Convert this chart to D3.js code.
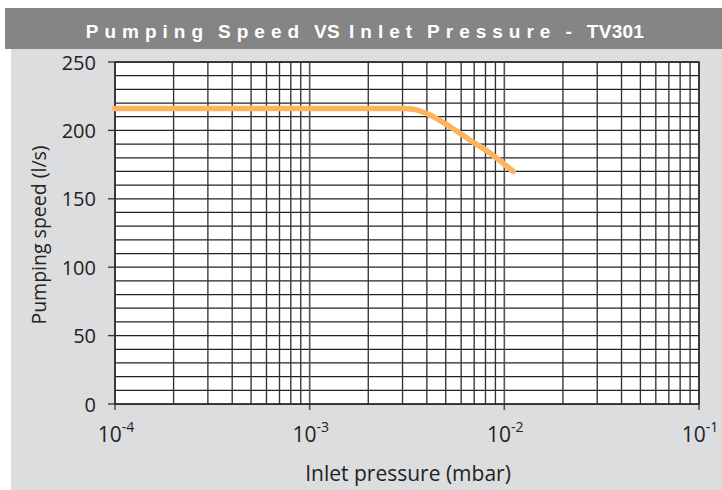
<!DOCTYPE html>
<html>
<head>
<meta charset="utf-8">
<script src="https://cdn.jsdelivr.net/npm/d3@7"></script>
<style>
  body { margin: 0; background: #fff; }
  svg { display: block; }
  text { white-space: pre; }
</style>
</head>
<body>
<div id="chart"></div>
<script>
// pumping speed curve
var pressure = [1e-4, 1e-3, 3.0e-3, 3.4e-3, 4.15e-3, 5.26e-3, 6.65e-3, 8.43e-3, 1.11e-2];
var speed = [216, 216, 216, 215.5, 211.3, 202.7, 193, 183.5, 170];
var yTicks = [0, 50, 100, 150, 200, 250];
var xDecades = [-4, -3, -2, -1];
var titleParts = ['Pumping', 'Speed', 'VS', 'Inlet', 'Pressure', '-', 'TV301'];

function drawChart() {
	var W = 722, H = 490;
	var mLeft = 115, mRight = 699, mTop = 62, mBottom = 404;

	var svg = d3.select('#chart').append('svg').attr('width', W).attr('height', H);

	// panel background + title bar
	svg.append('rect').attr('x', 11).attr('y', 49).attr('width', W - 11).attr('height', H - 49).attr('fill', '#dcdddf');
	svg.append('rect').attr('x', 5).attr('y', 8).attr('width', W - 5).attr('height', 41).attr('fill', '#858585');

	var title = svg.append('text')
		.attr('x', 365).attr('y', 38)
		.attr('text-anchor', 'middle')
		.attr('fill', '#fff')
		.attr('font-family', 'Liberation Sans, Arial, sans-serif')
		.attr('font-weight', 'bold')
		.attr('font-size', 19);
	titleParts.forEach(function (p, i) {
		var tight = p == 'VS' || p == 'TV301';
		title.append('tspan')
			.attr('dx', i == 0 ? 0 : 9)
			.attr('letter-spacing', tight ? 0.3 : 6)
			.text(p);
	});

	var x = d3.scaleLog().domain([1e-4, 1e-1]).range([mLeft, mRight]);
	var y = d3.scaleLinear().domain([0, 250]).range([mBottom, mTop]);

	svg.append('rect').attr('x', mLeft).attr('y', mTop).attr('width', mRight - mLeft).attr('height', mBottom - mTop).attr('fill', '#fff');

	// grid
	var g = svg.append('g');
	d3.range(0, 251, 10).forEach(function (v) {
		g.append('line')
			.attr('x1', mLeft).attr('x2', mRight)
			.attr('y1', y(v)).attr('y2', y(v))
			.attr('stroke', '#222').attr('stroke-width', 1.25);
	});
	xDecades.slice(0, 3).forEach(function (d) {
		for (var m = 2; m <= 9; m++) {
			var v = m * Math.pow(10, d);
			g.append('line')
				.attr('x1', x(v)).attr('x2', x(v))
				.attr('y1', mTop).attr('y2', mBottom)
				.attr('stroke', '#333').attr('stroke-width', 1.35);
		}
	});
	xDecades.forEach(function (d) {
		g.append('line')
			.attr('x1', x(Math.pow(10, d))).attr('x2', x(Math.pow(10, d)))
			.attr('y1', mTop).attr('y2', mBottom + 6)
			.attr('stroke', '#555').attr('stroke-width', 1.6);
	});
	// frame
	svg.append('rect').attr('x', mLeft).attr('y', mTop).attr('width', mRight - mLeft).attr('height', mBottom - mTop)
		.attr('fill', 'none').attr('stroke', '#222').attr('stroke-width', 1.4);

	// y axis ticks + labels
	var font = 'Open Sans, Noto Sans, sans-serif';
	yTicks.forEach(function (v) {
		svg.append('line').attr('x1', mLeft - 7).attr('x2', mLeft).attr('y1', y(v)).attr('y2', y(v))
			.attr('stroke', '#333').attr('stroke-width', 1.3);
		svg.append('text').attr('x', 96).attr('y', y(v) + 7.5)
			.attr('text-anchor', 'end').attr('font-family', font).attr('font-size', 20)
			.attr('fill', '#222').text(v);
	});

	// x axis labels 10^n
	xDecades.forEach(function (d) {
		var t = svg.append('text').attr('x', x(Math.pow(10, d)) + 1).attr('y', 442)
			.attr('text-anchor', 'middle').attr('font-family', font).attr('font-size', 21).attr('fill', '#222');
		t.append('tspan').text('10');
		t.append('tspan').attr('dy', -10).attr('font-size', 14).text('-' + (-d));
	});

	svg.append('text').attr('x', 408).attr('y', 481)
		.attr('text-anchor', 'middle').attr('font-family', font).attr('font-size', 21).attr('fill', '#222')
		.text('Inlet pressure (mbar)');
	svg.append('text').attr('transform', 'translate(46,235) rotate(-90)')
		.attr('text-anchor', 'middle').attr('font-family', font).attr('font-size', 19.5).attr('fill', '#222')
		.text('Pumping speed (l/s)');

	// curve
	var line = d3.line()
		.x(function (d, i) { return x(pressure[i]); })
		.y(function (d) { return y(d); })
		.curve(d3.curveMonotoneX);
	svg.append('path').datum(speed).attr('d', line)
		.attr('fill', 'none').attr('stroke', '#fdb45c').attr('stroke-width', 5.5)
		.attr('stroke-linecap', 'round');
}

drawChart();
</script>
</body>
</html>
